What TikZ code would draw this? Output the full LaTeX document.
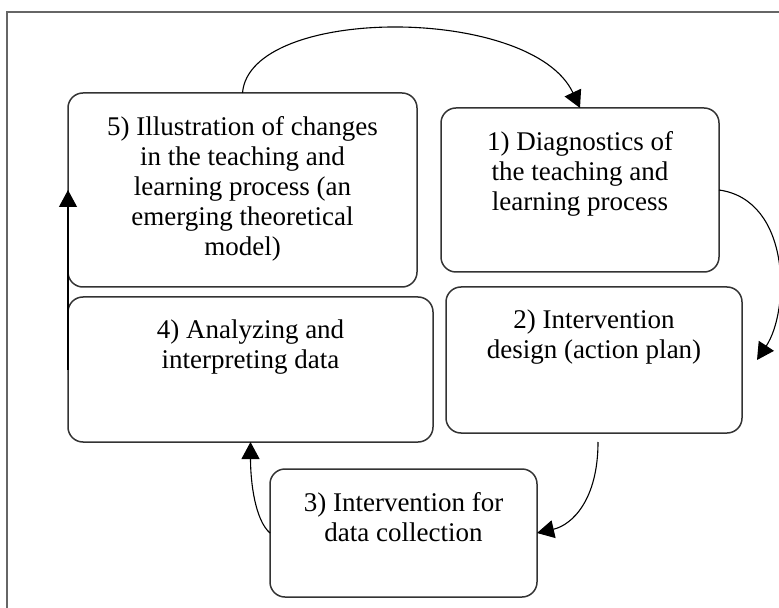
\documentclass[tikz,border=0pt]{standalone}
\usepackage{fontspec}
\setmainfont{Liberation Serif}
\usetikzlibrary{positioning,arrows.meta}
\tikzset{
stages/.style={>={Triangle[length=8.5pt,width=9pt]},x=0.5pt,y=-0.5pt},
stage/.style={rectangle,rounded corners=7.5pt,draw=black!80,line width=0.75pt,inner sep=0pt,outer sep=0pt},
stagetext/.style={align=center,inner sep=0pt,outer sep=0pt,font=\fontsize{13.5}{15}\selectfont},
flow/.style={->,draw=black,line width=0.55pt},
frame/.style={draw=black!60,line width=0.8pt}
}

\begin{document}
\begin{tikzpicture}[stages]
\useasboundingbox (0,0) rectangle (779,608);
\draw[frame] (7,608) -- (7,12) -- (779,12);

\node[stage,minimum width=174.5pt,minimum height=97pt] (s5) at (242.5,190) {};
\node[stage,minimum width=139pt,minimum height=82pt] (s1) at (580,190) {};
\node[stage,minimum width=182.5pt,minimum height=72.5pt] (s4) at (250.5,369.5) {};
\node[stage,minimum width=148pt,minimum height=73pt] (s2) at (594,360) {};
\node[stage,minimum width=133.5pt,minimum height=64pt] (s3) at (403.5,533) {};

\node[stagetext,below=11.5pt of s5.north] (t5) {5) Illustration of changes\\in the teaching and\\learning process (an\\emerging theoretical\\model)};
\node[stagetext,below=11.5pt of s1.north] (t1) {1) Diagnostics of\\the teaching and\\learning process};
\node[stagetext,below=11.5pt of s4.north] (t4) {4) Analyzing and\\interpreting data};
\node[stagetext,below=11.5pt of s2.north] (t2) {2) Intervention\\design (action plan)};
\node[stagetext,below=11.5pt of s3.north] (t3) {3) Intervention for\\data collection};

\coordinate (e2) at (757,360);

\draw[flow] (s5.north) .. controls +(7,-88) and +(-48,-103) .. (s1.north);
\draw[flow] (s1.east) .. controls +(72,10) and +(33,-50) .. (e2);
\draw[flow] ([xshift=2pt,yshift=-4.5pt]s2.south) .. controls +(0,58) and +(35,-8) .. (s3.east);
\draw[flow] (s3.west) .. controls +(-15,-13) and +(0,40) .. (s4.south);
\draw[flow] (s4.west) -- (s5.west);

\end{tikzpicture}
\end{document}
